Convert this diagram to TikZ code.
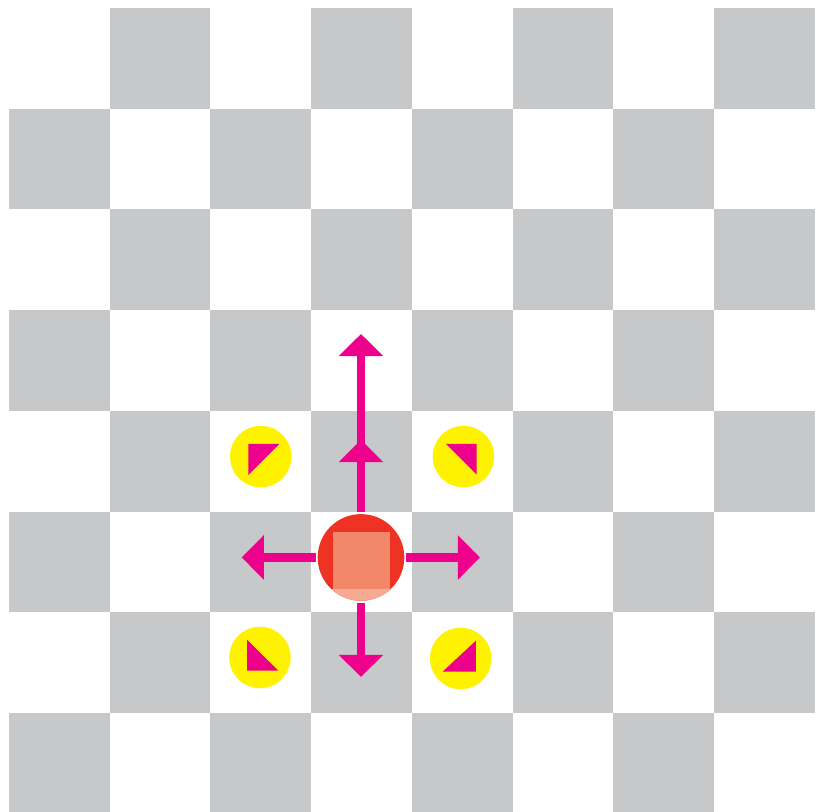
\documentclass[tikz,border=0pt]{standalone}
\usepackage{tikz}
\usetikzlibrary{arrows.meta, calc}
\definecolor{boardgray}{HTML}{C7C8CA}
\definecolor{movecolor}{HTML}{EC008C}
\definecolor{hintyellow}{HTML}{FFF200}
\definecolor{piecered}{HTML}{EE3224}
\definecolor{piecesquare}{HTML}{F38769}
\definecolor{piecelight}{HTML}{F6AA91}

\begin{document}
\begin{tikzpicture}[
  move/.style={-{Triangle[length=0.22cm, width=0.43cm]}, line width=0.089cm, draw=movecolor},
  capture/.style={circle, fill=hintyellow, minimum size=0.61cm, inner sep=0pt},
  piece/.style={circle, minimum size=0.86cm, inner sep=0pt, outer sep=0.02cm, fill=piecered,
    path picture={
      \fill[piecelight] (path picture bounding box.south west) rectangle ([yshift=-0.31cm]path picture bounding box.east);
      \fill[piecesquare] ([shift={(-0.28,-0.31)}]path picture bounding box.center) rectangle ++(0.565,0.563);
    }}
]
  \useasboundingbox (-0.089,0.02) rectangle (8.01,8.079);
  \fill[white] (-0.089,0.02) rectangle (8.01,8.079);

  % board
  \foreach \c in {0,...,7}
    \foreach \r in {0,2,4,6}
      \fill[boardgray] ({\c},{\r+mod(\c,2)}) rectangle ++(1,1);

  % piece and its moves
  \node[piece] (pawn) at (3.494,2.546) {};

  \coordinate (up1) at (3.494,3.712);
  \coordinate (up2) at (3.494,4.764);
  \coordinate (lft) at (2.31,2.546);
  \coordinate (rgt) at (4.675,2.546);
  \coordinate (dwn) at (3.494,1.36);

  \draw[move] (pawn) -- (up2);
  \draw[move] (pawn) -- (up1);
  \draw[move] (pawn) -- (lft);
  \draw[move] (pawn) -- (rgt);
  \draw[move] (pawn) -- (dwn);

  % diagonal squares
  \node[capture] (tl) at (2.499,3.547) {};
  \node[capture] (tr) at (4.511,3.547) {};
  \node[capture] (bl) at (2.491,1.553) {};
  \node[capture] (br) at (4.484,1.543) {};

  \fill[movecolor] ($(tl)+(-0.124,0.126)$) -- ++(0.31,0) -- ++(-0.31,-0.31) -- cycle;
  \fill[movecolor] ($(tr)+(0.131,0.126)$) -- ++(-0.305,0) -- ++(0.305,-0.305) -- cycle;
  \fill[movecolor] ($(bl)+(-0.126,-0.131)$) -- ++(0,0.305) -- ++(0.308,-0.305) -- cycle;
  \fill[movecolor] ($(br)+(0.151,-0.131)$) -- ++(0,0.308) -- ++(-0.331,-0.308) -- cycle;
\end{tikzpicture}
\end{document}
